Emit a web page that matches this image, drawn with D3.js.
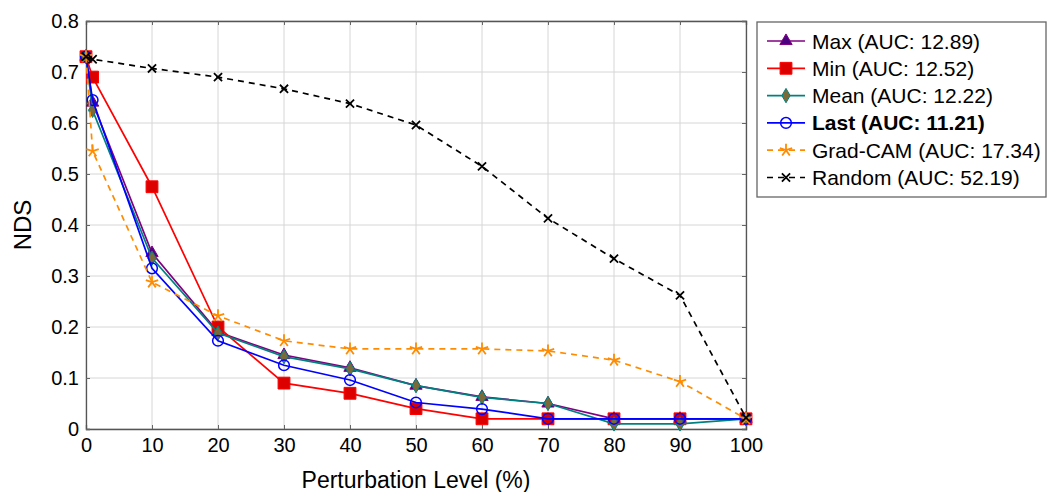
<!DOCTYPE html>
<html>
<head>
<meta charset="utf-8">
<script src="https://cdn.jsdelivr.net/npm/d3@7"></script>
<style>
  body { margin: 0; background: #fff; }
  svg { font-family: "Liberation Sans", Arial, sans-serif; }
</style>
</head>
<body>
<svg id="graph" width="1049" height="492"></svg>
<script>
const levels = [0, 1, 10, 20, 30, 40, 50, 60, 70, 80, 90, 100]

const max_vals     = [0.73, 0.64, 0.345, 0.19, 0.145, 0.12, 0.085, 0.063, 0.05, 0.02, 0.02, 0.02]
const min_vals     = [0.73, 0.69, 0.475, 0.2, 0.09, 0.07, 0.04, 0.02, 0.02, 0.02, 0.02, 0.02]
const mean_vals    = [0.73, 0.625, 0.335, 0.188, 0.142, 0.118, 0.085, 0.062, 0.05, 0.01, 0.01, 0.02]
const last_vals    = [0.73, 0.645, 0.315, 0.173, 0.125, 0.096, 0.052, 0.039, 0.02, 0.02, 0.02, 0.02]
const gradcam_vals = [0.73, 0.545, 0.288, 0.222, 0.173, 0.157, 0.157, 0.157, 0.153, 0.135, 0.093, 0.02]
const random_vals  = [0.73, 0.725, 0.707, 0.69, 0.667, 0.638, 0.596, 0.515, 0.413, 0.334, 0.262, 0.022]

const x_ticks = [0, 10, 20, 30, 40, 50, 60, 70, 80, 90, 100]
const y_ticks = [0, 0.1, 0.2, 0.3, 0.4, 0.5, 0.6, 0.7, 0.8]

const series = [
  {name: "Max (AUC: 12.89)", values: max_vals, color: "#800080", fill: "#4b0082", mark: "triangle", dash: null, bold: false},
  {name: "Min (AUC: 12.52)", values: min_vals, color: "#ff0000", fill: "#dd0000", mark: "square", dash: null, bold: false},
  {name: "Mean (AUC: 12.22)", values: mean_vals, color: "#008080", fill: "#7a6a3a", mark: "diamond", dash: null, bold: false},
  {name: "Last (AUC: 11.21)", values: last_vals, color: "#0000ff", fill: "none", mark: "circle", dash: null, bold: true},
  {name: "Grad-CAM (AUC: 17.34)", values: gradcam_vals, color: "#ff8c00", fill: "#ff8c00", mark: "star", dash: "6,5", bold: false},
  {name: "Random (AUC: 52.19)", values: random_vals, color: "#000000", fill: "none", mark: "x", dash: "6,5", bold: false},
]

const marginLeft = 86
const marginRight = 303
const marginTop = 21
const marginBottom = 63
const width = 1049
const height = 492

const svg = d3.select("#graph")

const x = d3.scaleLinear().domain([0, 100]).range([marginLeft, width - marginRight])
const y = d3.scaleLinear().domain([0, 0.8]).range([height - marginBottom, marginTop])

// grid
svg.append("g")
  .selectAll("line")
  .data(x_ticks)
  .enter().append("line")
  .attr("x1", d => x(d)).attr("x2", d => x(d))
  .attr("y1", y(0.8)).attr("y2", y(0))
  .attr("stroke", "#d6d6d6").attr("stroke-width", 1)

svg.append("g")
  .selectAll("line")
  .data(y_ticks)
  .enter().append("line")
  .attr("x1", x(0)).attr("x2", x(100))
  .attr("y1", d => y(d)).attr("y2", d => y(d))
  .attr("stroke", "#d6d6d6").attr("stroke-width", 1)

// axes with inward ticks on all sides
const fmt_y = d => d === 0 ? "0" : d3.format(".1f")(d)

svg.append("g")
  .attr("transform", `translate(0,${y(0)})`)
  .call(d3.axisBottom(x).tickValues(x_ticks).tickSize(-4).tickPadding(9).tickFormat(d3.format("d")))
svg.append("g")
  .attr("transform", `translate(0,${y(0.8)})`)
  .call(d3.axisTop(x).tickValues(x_ticks).tickSize(-4).tickFormat(""))
svg.append("g")
  .attr("transform", `translate(${x(0)},0)`)
  .call(d3.axisLeft(y).tickValues(y_ticks).tickSize(-4).tickPadding(7).tickFormat(fmt_y))
svg.append("g")
  .attr("transform", `translate(${x(100)},0)`)
  .call(d3.axisRight(y).tickValues(y_ticks).tickSize(-4).tickFormat(""))

svg.selectAll(".domain").attr("stroke", "#555").attr("stroke-width", 1.3)
svg.selectAll(".tick line").attr("stroke", "#666")
svg.selectAll(".tick text").attr("font-size", 20).attr("fill", "#000")
  .style("font-family", "Liberation Sans, Arial, sans-serif")

// axis titles
svg.append("text")
  .attr("x", x(50)).attr("y", 488)
  .attr("text-anchor", "middle")
  .attr("font-size", 23)
  .text("Perturbation Level (%)")

svg.append("text")
  .attr("transform", `translate(31,${y(0.4)}) rotate(-90)`)
  .attr("text-anchor", "middle")
  .attr("font-size", 24)
  .text("NDS")

function star_path(r){
  let p = ""
  for (let k = 0; k < 5; k++){
    const a = -Math.PI / 2 + k * 2 * Math.PI / 5
    p += `M0,0L${r * Math.cos(a)},${r * Math.sin(a)}`
  }
  return p
}

function marker_path(mark){
  if (mark == "triangle") return d3.symbol(d3.symbolTriangle, 65)()
  if (mark == "square") return d3.symbol(d3.symbolSquare, 140)()
  if (mark == "diamond") return d3.symbol(d3.symbolDiamond, 60)()
  if (mark == "circle") return d3.symbol(d3.symbolCircle, 90)()
  if (mark == "star") return star_path(6.5)
  if (mark == "x") return d3.symbol(d3.symbolTimes, 45)()
}

function draw_marker(g, s, cx, cy){
  const p = g.append("path")
    .attr("d", marker_path(s.mark))
    .attr("transform", `translate(${cx},${cy})`)
  if (s.mark == "star" || s.mark == "x"){
    p.attr("fill", "none").attr("stroke", s.color).attr("stroke-width", 1.8)
  } else if (s.mark == "circle"){
    p.attr("fill", "none").attr("stroke", s.color).attr("stroke-width", 1.5)
  } else {
    p.attr("fill", s.fill).attr("stroke", s.color).attr("stroke-width", 1)
  }
}

const line = d3.line().x((d, i) => x(levels[i])).y(d => y(d))

series.forEach(s => {
  const g = svg.append("g")
  g.append("path")
    .datum(s.values)
    .attr("d", line)
    .attr("fill", "none")
    .attr("stroke", s.color)
    .attr("stroke-width", 1.7)
    .attr("stroke-dasharray", s.dash)
  s.values.forEach((v, i) => draw_marker(g, s, x(levels[i]), y(v)))
})

// legend
const legend = svg.append("g").attr("transform", "translate(757,22)")
legend.append("rect")
  .attr("x", 0).attr("y", 0).attr("width", 289).attr("height", 175)
  .attr("fill", "#fff").attr("stroke", "#666").attr("stroke-width", 1.3)

series.forEach((s, i) => {
  const ly = 19 + i * 27.3
  legend.append("line")
    .attr("x1", 10).attr("x2", 48).attr("y1", ly).attr("y2", ly)
    .attr("stroke", s.color).attr("stroke-width", 1.7)
    .attr("stroke-dasharray", s.dash)
  draw_marker(legend, s, 29, ly)
  legend.append("text")
    .attr("x", 55).attr("y", ly + 7.5)
    .attr("font-size", 21)
    .attr("font-weight", s.bold ? "bold" : "normal")
    .text(s.name)
})
</script>
</body>
</html>
